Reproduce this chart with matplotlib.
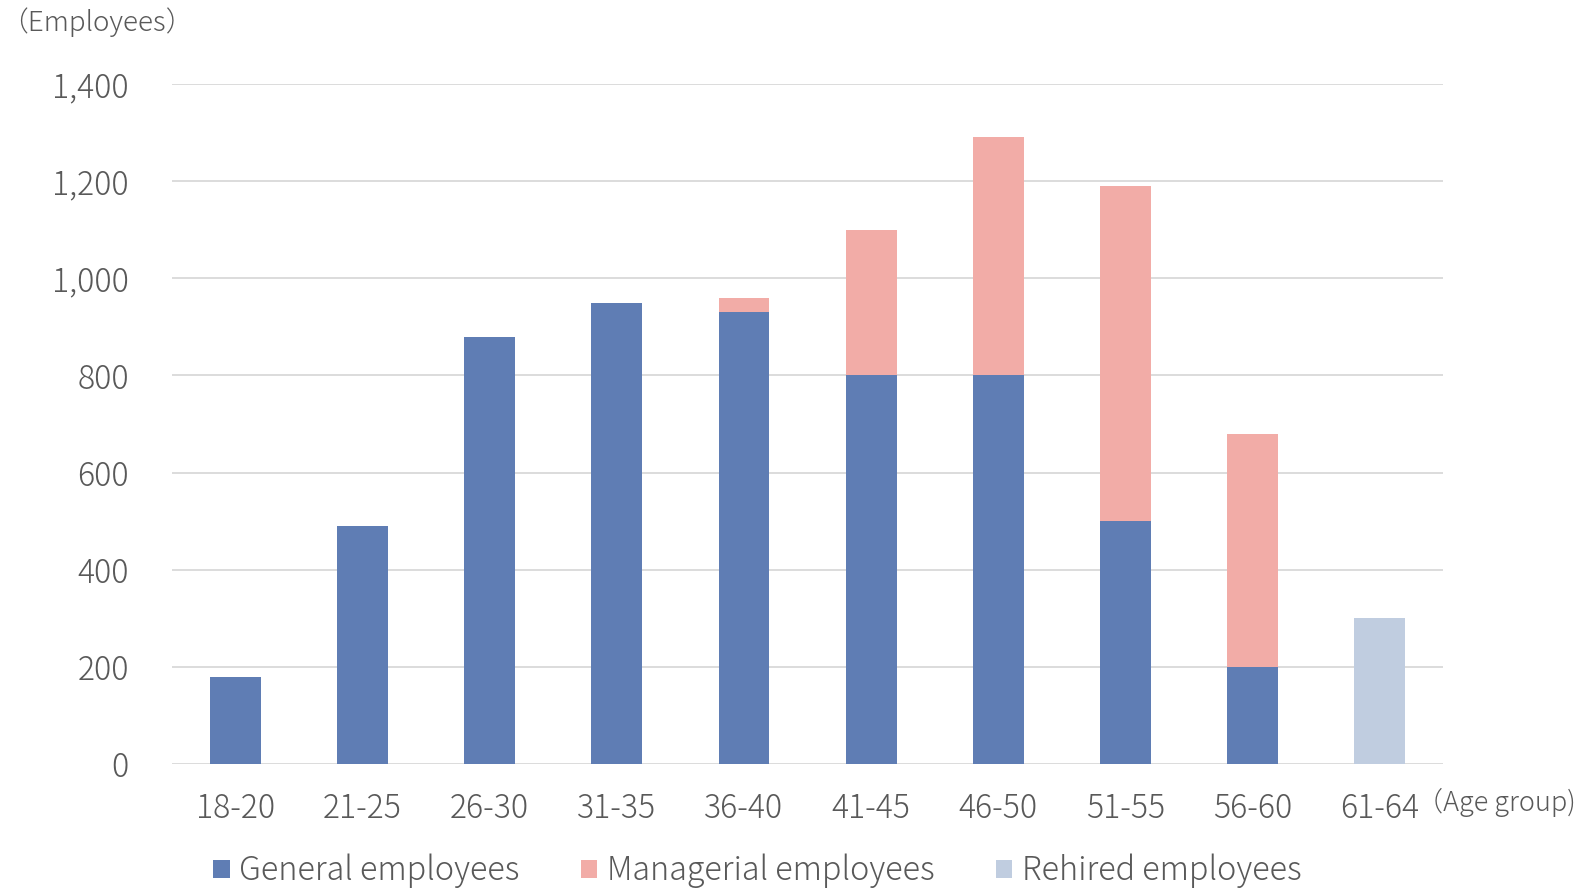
import matplotlib
matplotlib.use("Agg")
import matplotlib.pyplot as plt
import numpy as np

plt.rcParams['font.family'] = ['Noto Sans CJK JP', 'DejaVu Sans']
plt.rcParams['font.weight'] = 'light'

categories = ["18-20", "21-25", "26-30", "31-35", "36-40", "41-45", "46-50", "51-55", "56-60", "61-64"]
general = [180, 490, 880, 950, 930, 800, 800, 500, 200, 0]
managerial = [0, 0, 0, 0, 30, 300, 490, 690, 480, 0]
rehired = [0, 0, 0, 0, 0, 0, 0, 0, 0, 300]
yticks = [0, 200, 400, 600, 800, 1000, 1200, 1400]

c_gen = "#5f7db4"
c_man = "#f2aca7"
c_reh = "#c0cde0"
tc = "#595959"

fig = plt.figure(figsize=(15.85, 8.89), dpi=100)
ax = fig.add_axes([0.1085, 0.1406, 0.802, 0.7649])

x = np.arange(len(categories))
g = np.array(general); m = np.array(managerial); r = np.array(rehired)
b1 = ax.bar(x, g, width=0.4, color=c_gen, label="General employees", zorder=3)
b2 = ax.bar(x, m, width=0.4, bottom=g, color=c_man, label="Managerial employees", zorder=3)
b3 = ax.bar(x, r, width=0.4, bottom=g + m, color=c_reh, label="Rehired employees", zorder=3)

ax.set_xlim(-0.5, len(categories) - 0.5)
ax.set_ylim(0, 1400)
ax.set_yticks(yticks)
ax.set_yticklabels([f"{v:,}" for v in yticks])
ax.set_xticks(x)
ax.set_xticklabels(categories)
ax.grid(axis='y', color="#d9d9d9", linewidth=1.3, zorder=0)
for s in ax.spines.values():
    s.set_visible(False)
ax.tick_params(axis='both', length=0, labelsize=23, labelcolor=tc)
ax.tick_params(axis='y', pad=31)
ax.tick_params(axis='x', pad=20)

fig.text(0.0, 0.975, "（Employees）", fontsize=20, color=tc, ha='left', va='center')
fig.text(0.994, 0.0975, "（Age group)", fontsize=19.5, color=tc, ha='right', va='center')

leg = fig.legend(handles=[b1, b2, b3], loc='center', bbox_to_anchor=(0.478, 0.02), ncol=3,
                 frameon=False, fontsize=23.3, handlelength=0.5, handleheight=0.5,
                 handletextpad=0.3, columnspacing=1.9, labelcolor=tc)

fig.savefig("out.png", dpi=100)
